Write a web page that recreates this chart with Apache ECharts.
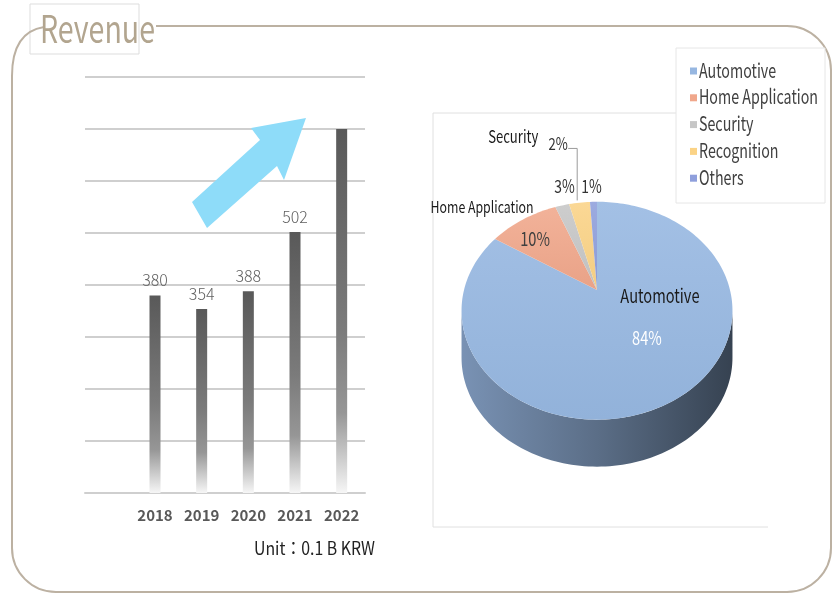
<!DOCTYPE html>
<html>
<head>
<meta charset="utf-8">
<script src="https://cdn.jsdelivr.net/npm/echarts@6/dist/echarts.min.js"></script>
<style>
  html, body { margin: 0; padding: 0; background: #ffffff; }
  #chart { width: 835px; height: 594px; }
</style>
</head>
<body>
<div id="chart"></div>
<script>
// ---- Revenue by year (unit: 0.1 B KRW) ----
const years = ['2018', '2019', '2020', '2021', '2022'];
const revenue = [380, 354, 388, 502, 700];
const revenueLabelShown = [true, true, true, true, false];
const revenueAxisMax = 800;
const revenueAxisStep = 100;

// ---- Revenue share by application (%) ----
const segments = ['Automotive', 'Home Application', 'Security', 'Recognition', 'Others'];
const shares = [84, 10, 2, 3, 1];
const segmentColors = ['#97b7e1', '#f0a78b', '#c6c6c6', '#fbd386', '#8f9fdc'];

const FONT = '"Noto Sans CJK KR", "Noto Sans", sans-serif';

// Horizontal squeeze needed to set a string in a condensed look at a given width
const measureCtx = document.createElement('canvas').getContext('2d');
function squeeze(str, size, width, weight) {
  measureCtx.font = (weight || 'normal') + ' ' + size + 'px ' + FONT;
  return Math.min(1, width / measureCtx.measureText(str).width);
}
const SX_TITLE = squeeze('Revenue', 38, 115);
const SX_LEGEND = squeeze('Home Application', 20, 119);
const SX_PIE = squeeze('Home Application', 16, 103);
const SX_UNIT = squeeze('Unit：0.1 B KRW', 18, 121);

function condensedText(str, x, y, size, fill, sx, align) {
  return {
    type: 'text', x: x, y: y, scaleX: sx,
    style: {
      text: str, x: 0, y: 0, fill: fill,
      fontSize: size, fontFamily: FONT,
      align: align || 'center', verticalAlign: 'middle'
    }
  };
}

// Tilted pie geometry (perspective view of a disc)
const PIE = { cx: 597, cy: 290, R: 133, K: 105, u: 0.19, H: 47, start: 90 };

function project(deg, r, drop) {
  const t = deg * Math.PI / 180;
  const s = Math.sin(t) * r, c = Math.cos(t) * r;
  const p = 1 / (1 + PIE.u * s);
  return [PIE.cx + PIE.R * c * p, PIE.cy - PIE.K * s * p + (drop || 0)];
}

function arcPoints(a, b, r, drop) {
  const n = Math.max(2, Math.ceil(Math.abs(b - a) / 1.5));
  const pts = [];
  for (let i = 0; i <= n; i++) pts.push(project(a + (b - a) * i / n, r, drop));
  return pts;
}

function sliceRange(k) {
  let before = 0;
  for (let i = 0; i < k; i++) before += shares[i];
  const hi = PIE.start - before * 3.6;
  return [hi - shares[k] * 3.6, hi];
}

function shade(hex, f) {
  const n = parseInt(hex.slice(1), 16);
  const ch = [(n >> 16) & 255, (n >> 8) & 255, n & 255].map(v =>
    Math.max(0, Math.min(255, Math.round(f >= 1 ? v + (255 - v) * (f - 1) : v * f))));
  return 'rgb(' + ch.join(',') + ')';
}

// Label placement per slice: anchor on the slice's mid-angle at radius r, then offset
const pieLabelLayout = [
  { value: { r: 0.5, dx: 15, dy: -2, fill: '#ffffff', size: 19 },
    name:  { r: 0.5, dx: 28, dy: -44, fill: '#1a1a1a', size: 19 } },
  { value: { r: 1, dx: 12, dy: 19, fill: '#404040', size: 19 },
    name:  { r: 1, dx: -41, dy: -13, fill: '#1a1a1a', size: 16 } },
  { value: { r: 1, dx: -4, dy: -62, fill: '#333333', size: 17 },
    name:  { r: 1, dx: -49, dy: -69, fill: '#1a1a1a', size: 17 },
    leader: { dx: 15, gap: 5 } },
  { value: { r: 1, dx: -15, dy: -17, fill: '#333333', size: 18 } },
  { value: { r: 1, dx: -2, dy: -16, fill: '#333333', size: 18 } }
];

function renderSlice(k) {
  const [lo, hi] = sliceRange(k);
  const color = segmentColors[k];
  const children = [];

  // visible outer wall lies between the two silhouette angles
  const sil = Math.asin(PIE.u) * 180 / Math.PI;
  const v0 = 180 + sil - 360, v1 = -sil;
  [-360, 0, 360].forEach(shift => {
    const a = Math.max(lo, v0 + shift), b = Math.min(hi, v1 + shift);
    if (b > a) {
      const pts = arcPoints(a, b, 1, 0).concat(arcPoints(b, a, 1, PIE.H));
      children.push({
        type: 'polygon', shape: { points: pts },
        style: {
          fill: { type: 'linear', x: 0, y: 0, x2: 1, y2: 0,
            colorStops: [
              { offset: 0, color: shade(color, 0.8) },
              { offset: 0.5, color: shade(color, 0.6) },
              { offset: 1, color: shade(color, 0.36) }
            ] }
        }
      });
    }
  });

  // top face
  const face = [[PIE.cx, PIE.cy]].concat(arcPoints(hi, lo, 1, 0));
  children.push({
    type: 'polygon', shape: { points: face },
    style: {
      fill: { type: 'linear', x: 0, y: 0, x2: 0, y2: 1,
        colorStops: [
          { offset: 0, color: shade(color, 1.12) },
          { offset: 1, color: shade(color, 0.97) }
        ] }
    }
  });

  // labels
  const mid = (lo + hi) / 2;
  const lay = pieLabelLayout[k];
  const va = project(mid, lay.value.r, 0);
  const vx = va[0] + lay.value.dx, vy = va[1] + lay.value.dy;
  children.push(condensedText(shares[k] + '%', vx, vy, lay.value.size, lay.value.fill, SX_PIE));
  if (lay.name) {
    const na = project(mid, lay.name.r, 0);
    children.push(condensedText(segments[k], na[0] + lay.name.dx, na[1] + lay.name.dy,
      lay.name.size, lay.name.fill, SX_PIE));
  }
  if (lay.leader) {
    const rim = project(mid, 1, 0);
    const lx = rim[0] + lay.leader.dx;
    children.push({
      type: 'polyline',
      shape: { points: [[vx + 10, vy + 5], [lx, vy + 5], [lx, rim[1] - lay.leader.gap]] },
      style: { stroke: '#9a9a9a', lineWidth: 1, fill: null }
    });
  }
  return { type: 'group', children: children };
}

const pieSeries = segments.map((name, k) => ({
  type: 'custom',
  name: name,
  coordinateSystem: 'none',
  silent: true,
  z: 3,
  itemStyle: { color: segmentColors[k] },
  data: [shares[k]],
  renderItem: () => renderSlice(k)
}));

// Legend entries for the pie, stacked in a bordered box
const LEGEND = { x: 690, y: 70, step: 26.8, icon: 7 };
const legendParts = [];
segments.forEach((name, k) => {
  const cy = LEGEND.y + k * LEGEND.step;
  legendParts.push({ type: 'rect', z: 2,
    shape: { x: LEGEND.x, y: cy - LEGEND.icon / 2 + 1, width: LEGEND.icon, height: LEGEND.icon },
    style: { fill: segmentColors[k] } });
  legendParts.push(Object.assign(
    condensedText(name, LEGEND.x + LEGEND.icon + 2, cy, 20, '#404040', SX_LEGEND, 'left'), { z: 2 }));
});

const barFill = {
  type: 'linear', x: 0, y: 0, x2: 0, y2: 1,
  colorStops: [
    { offset: 0, color: '#595959' },
    { offset: 0.55, color: '#7b7b7b' },
    { offset: 0.78, color: '#969696' },
    { offset: 1, color: '#f6f6f6' }
  ]
};

// Rounded page frame, built from straight edges and corner arcs
const FRAME = { l: 12, t: 26, r: 831, b: 592, rad: 44 };
const frameStroke = { stroke: '#bcb1a2', lineWidth: 2, fill: null };
const frameParts = [
  { type: 'line', shape: { x1: 156, y1: FRAME.t, x2: FRAME.r - FRAME.rad, y2: FRAME.t } },
  { type: 'line', shape: { x1: FRAME.r, y1: FRAME.t + FRAME.rad, x2: FRAME.r, y2: FRAME.b - FRAME.rad } },
  { type: 'line', shape: { x1: FRAME.l + FRAME.rad, y1: FRAME.b, x2: FRAME.r - FRAME.rad, y2: FRAME.b } },
  { type: 'line', shape: { x1: FRAME.l, y1: 76, x2: FRAME.l, y2: FRAME.b - FRAME.rad } },
  { type: 'arc', shape: { cx: FRAME.r - FRAME.rad, cy: FRAME.t + FRAME.rad, r: FRAME.rad, startAngle: -Math.PI / 2, endAngle: 0, clockwise: true } },
  { type: 'arc', shape: { cx: FRAME.r - FRAME.rad, cy: FRAME.b - FRAME.rad, r: FRAME.rad, startAngle: 0, endAngle: Math.PI / 2, clockwise: true } },
  { type: 'arc', shape: { cx: FRAME.l + FRAME.rad, cy: FRAME.b - FRAME.rad, r: FRAME.rad, startAngle: Math.PI / 2, endAngle: Math.PI, clockwise: true } },
  { type: 'bezierCurve', shape: { x1: FRAME.l, y1: 76, cpx1: FRAME.l, cpy1: 32, x2: 44, y2: 27 } }
].map(p => Object.assign(p, { z: 1, style: frameStroke }));

// Pie panel: white card with a hairline on its left, top and bottom edges
const PANEL = { x: 433, y: 113, w: 335, h: 414 };
const panelParts = [
  { type: 'rect', shape: { x: PANEL.x, y: PANEL.y, width: PANEL.w, height: PANEL.h }, style: { fill: '#ffffff' } },
  { type: 'polyline',
    shape: { points: [[PANEL.x + PANEL.w, PANEL.y], [PANEL.x, PANEL.y], [PANEL.x, PANEL.y + PANEL.h], [PANEL.x + PANEL.w, PANEL.y + PANEL.h]] },
    style: { stroke: '#e0e0e0', lineWidth: 1, fill: null } }
].map(p => Object.assign(p, { z: 1 }));

const chart = echarts.init(document.getElementById('chart'), null, { renderer: 'canvas' });

chart.setOption({
  animation: false,
  backgroundColor: '#ffffff',
  grid: { left: 85, right: 470, top: 77, bottom: 101 },
  xAxis: {
    type: 'category',
    data: [''].concat(years),
    axisLine: { show: true, lineStyle: { color: '#cfcfcf', width: 2 } },
    axisTick: { show: false },
    axisLabel: {
      color: '#595959', fontSize: 15, fontWeight: 'bold',
      fontFamily: FONT, margin: 15
    }
  },
  yAxis: {
    type: 'value', min: 0, max: revenueAxisMax, interval: revenueAxisStep,
    axisLabel: { show: false }, axisLine: { show: false }, axisTick: { show: false },
    splitLine: { lineStyle: { color: '#cfcfcf', width: 2 } }
  },
  graphic: {
    elements: [
      { type: 'rect', z: 1, shape: { x: 30, y: 4, width: 109, height: 50 },
        style: { fill: '#ffffff', stroke: '#dddddd', lineWidth: 1 } }
    ].concat(frameParts).concat(panelParts).concat([
      { type: 'rect', z: 1, shape: { x: 676, y: 48, width: 149, height: 155 },
        style: { fill: '#ffffff', stroke: '#e6e6e6', lineWidth: 1 } },
      Object.assign(condensedText('Revenue', 40, 29, 38, '#b2a58f', SX_TITLE, 'left'), { z: 1 }),
      { type: 'polygon', z: 1,
        shape: { points: [[192, 202], [260, 140], [251, 128], [306, 118], [284, 180], [277, 166], [207, 228]] },
        style: { fill: '#8edcf9' } },
      Object.assign(condensedText('Unit：0.1 B KRW', 254, 548, 18, '#222222', SX_UNIT, 'left'), { z: 1 })
    ]).concat(legendParts)
  },
  series: [
    {
      type: 'bar',
      name: 'Revenue',
      barWidth: 11,
      z: 2,
      itemStyle: { color: barFill },
      label: {
        show: true, position: 'top', distance: 7,
        color: '#606060', fontSize: 16, fontWeight: 300, fontFamily: FONT
      },
      data: [null].concat(revenue.map((v, i) => ({
        value: v,
        label: { show: revenueLabelShown[i] }
      })))
    }
  ].concat(pieSeries)
});
</script>
</body>
</html>
